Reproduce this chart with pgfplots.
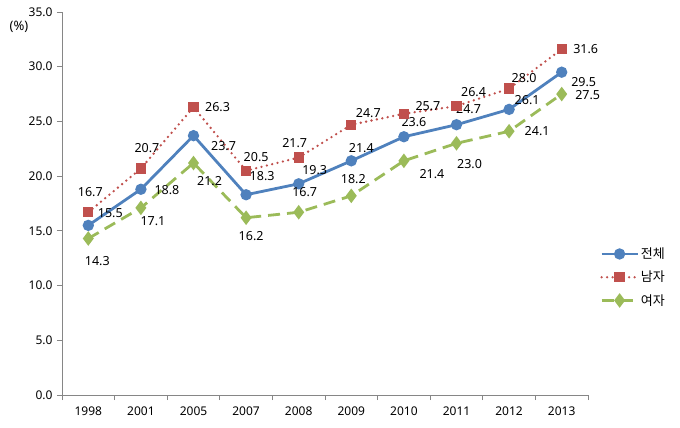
\documentclass[border=0pt]{standalone}
\usepackage{pgfplots}
\pgfplotsset{compat=1.18}
\usepackage{pgfplotstable}
\usepackage{fontspec}
\setmainfont{Noto Sans}
\newfontfamily\kr{Noto Sans CJK KR}
\definecolor{cblue}{HTML}{4F81BD}
\definecolor{cred}{HTML}{C0504D}
\definecolor{cgreen}{HTML}{9BBB59}
\definecolor{axgray}{HTML}{868686}

% x y dx dy (label offsets in px, dy downward)
\pgfplotstableread{
x y dx dy
0 15.5 22 -12
1 18.8 26 1
2 23.7 30 10
3 18.3 16 -19
4 19.3 16 -14
5 21.4 10 -13
6 23.6 10 -15
7 24.7 12 -16
8 26.1 18 -9
9 29.5 22 10
}\total
\pgfplotstableread{
x y dx dy
0 16.7 2 -20
1 20.7 6 -20
2 26.3 24 0
3 20.5 10 -14
4 21.7 -4 -14
5 24.7 17 -12
6 25.7 24 -8
7 26.4 17 -14
8 28.0 15 -11
9 31.6 24 0
}\male
\pgfplotstableread{
x y dx dy
0 14.3 9 23
1 17.1 12 13
2 21.2 16 18
3 16.2 5 18
4 16.7 6 -20
5 18.2 2 -17
6 21.4 28 13
7 23.0 13 21
8 24.1 28 0
9 27.5 26 1
}\female

\begin{document}
\begin{tikzpicture}
\path[use as bounding box] (0,0) rectangle (680pt,428pt);
\begin{axis}[
  at={(62pt,33pt)}, anchor=south west,
  scale only axis, width=526pt, height=383pt,
  xmin=-0.5, xmax=9.5, ymin=0, ymax=35,
  axis x line*=bottom, axis y line*=left,
  axis line style={-, draw=axgray, line width=0.8pt},
  xtick={0,...,9},
  xticklabels={1998,2001,2005,2007,2008,2009,2010,2011,2012,2013},
  major x tick style={draw=none},
  minor xtick={-0.5,0.5,...,9.5},
  minor x tick style={draw=axgray, line width=0.8pt},
  minor tick length=5pt,
  ytick={0,5,...,35},
  y tick style={draw=axgray, line width=0.8pt},
  major tick length=5pt,
  tick align=outside,
  /pgf/number format/assume math mode=true,
  y tick label style={/pgf/number format/fixed, /pgf/number format/fixed zerofill, /pgf/number format/precision=1, xshift=-1pt},
  x tick label style={yshift=-3pt},
  tick label style={font=\fontsize{12}{14}\selectfont},
  clip=false,
  nodes near coords,
  nodes near coords style={/pgf/number format/fixed, /pgf/number format/fixed zerofill, /pgf/number format/precision=1},
  visualization depends on={\thisrow{dx} \as \dx},
  visualization depends on={\thisrow{dy} \as \dy},
  every node near coord/.append style={anchor=center, text=black, inner sep=1pt, font=\fontsize{12.5}{14}\selectfont, xshift=\dx pt, yshift=-\dy pt},
  legend style={at={(1.0228,0.39)}, anchor=north west, draw=none, fill=none,
    font=\kr\fontsize{13}{15}\selectfont, row sep=7pt, inner sep=0pt},
  legend cell align=left,
  legend image code/.code={\draw[mark repeat=2,mark phase=2,#1] plot coordinates {(0pt,0pt) (18pt,0pt) (36pt,0pt)};},
]
\addplot[cblue, line width=2.8pt, mark=*, mark size=4.2pt, mark options={solid, fill=cblue, draw=cblue}] table[x=x,y=y] {\total};
\addlegendentry{전체}
\addplot[cred, line width=2.6pt, line cap=round, dash pattern=on 0pt off 5.5pt, mark=square*, mark size=3.8pt, mark options={solid, fill=cred, draw=cred}] table[x=x,y=y] {\male};
\addlegendentry{남자}
\addplot[cgreen, line width=2.8pt, dash pattern=on 12pt off 7pt, mark=diamond*, mark size=5pt, mark options={solid, fill=cgreen, draw=cgreen}] table[x=x,y=y] {\female};
\addlegendentry{여자}
\end{axis}
\node[font=\fontsize{13}{15}\selectfont] at (19pt,401pt) {(\%)};
\end{tikzpicture}
\end{document}
